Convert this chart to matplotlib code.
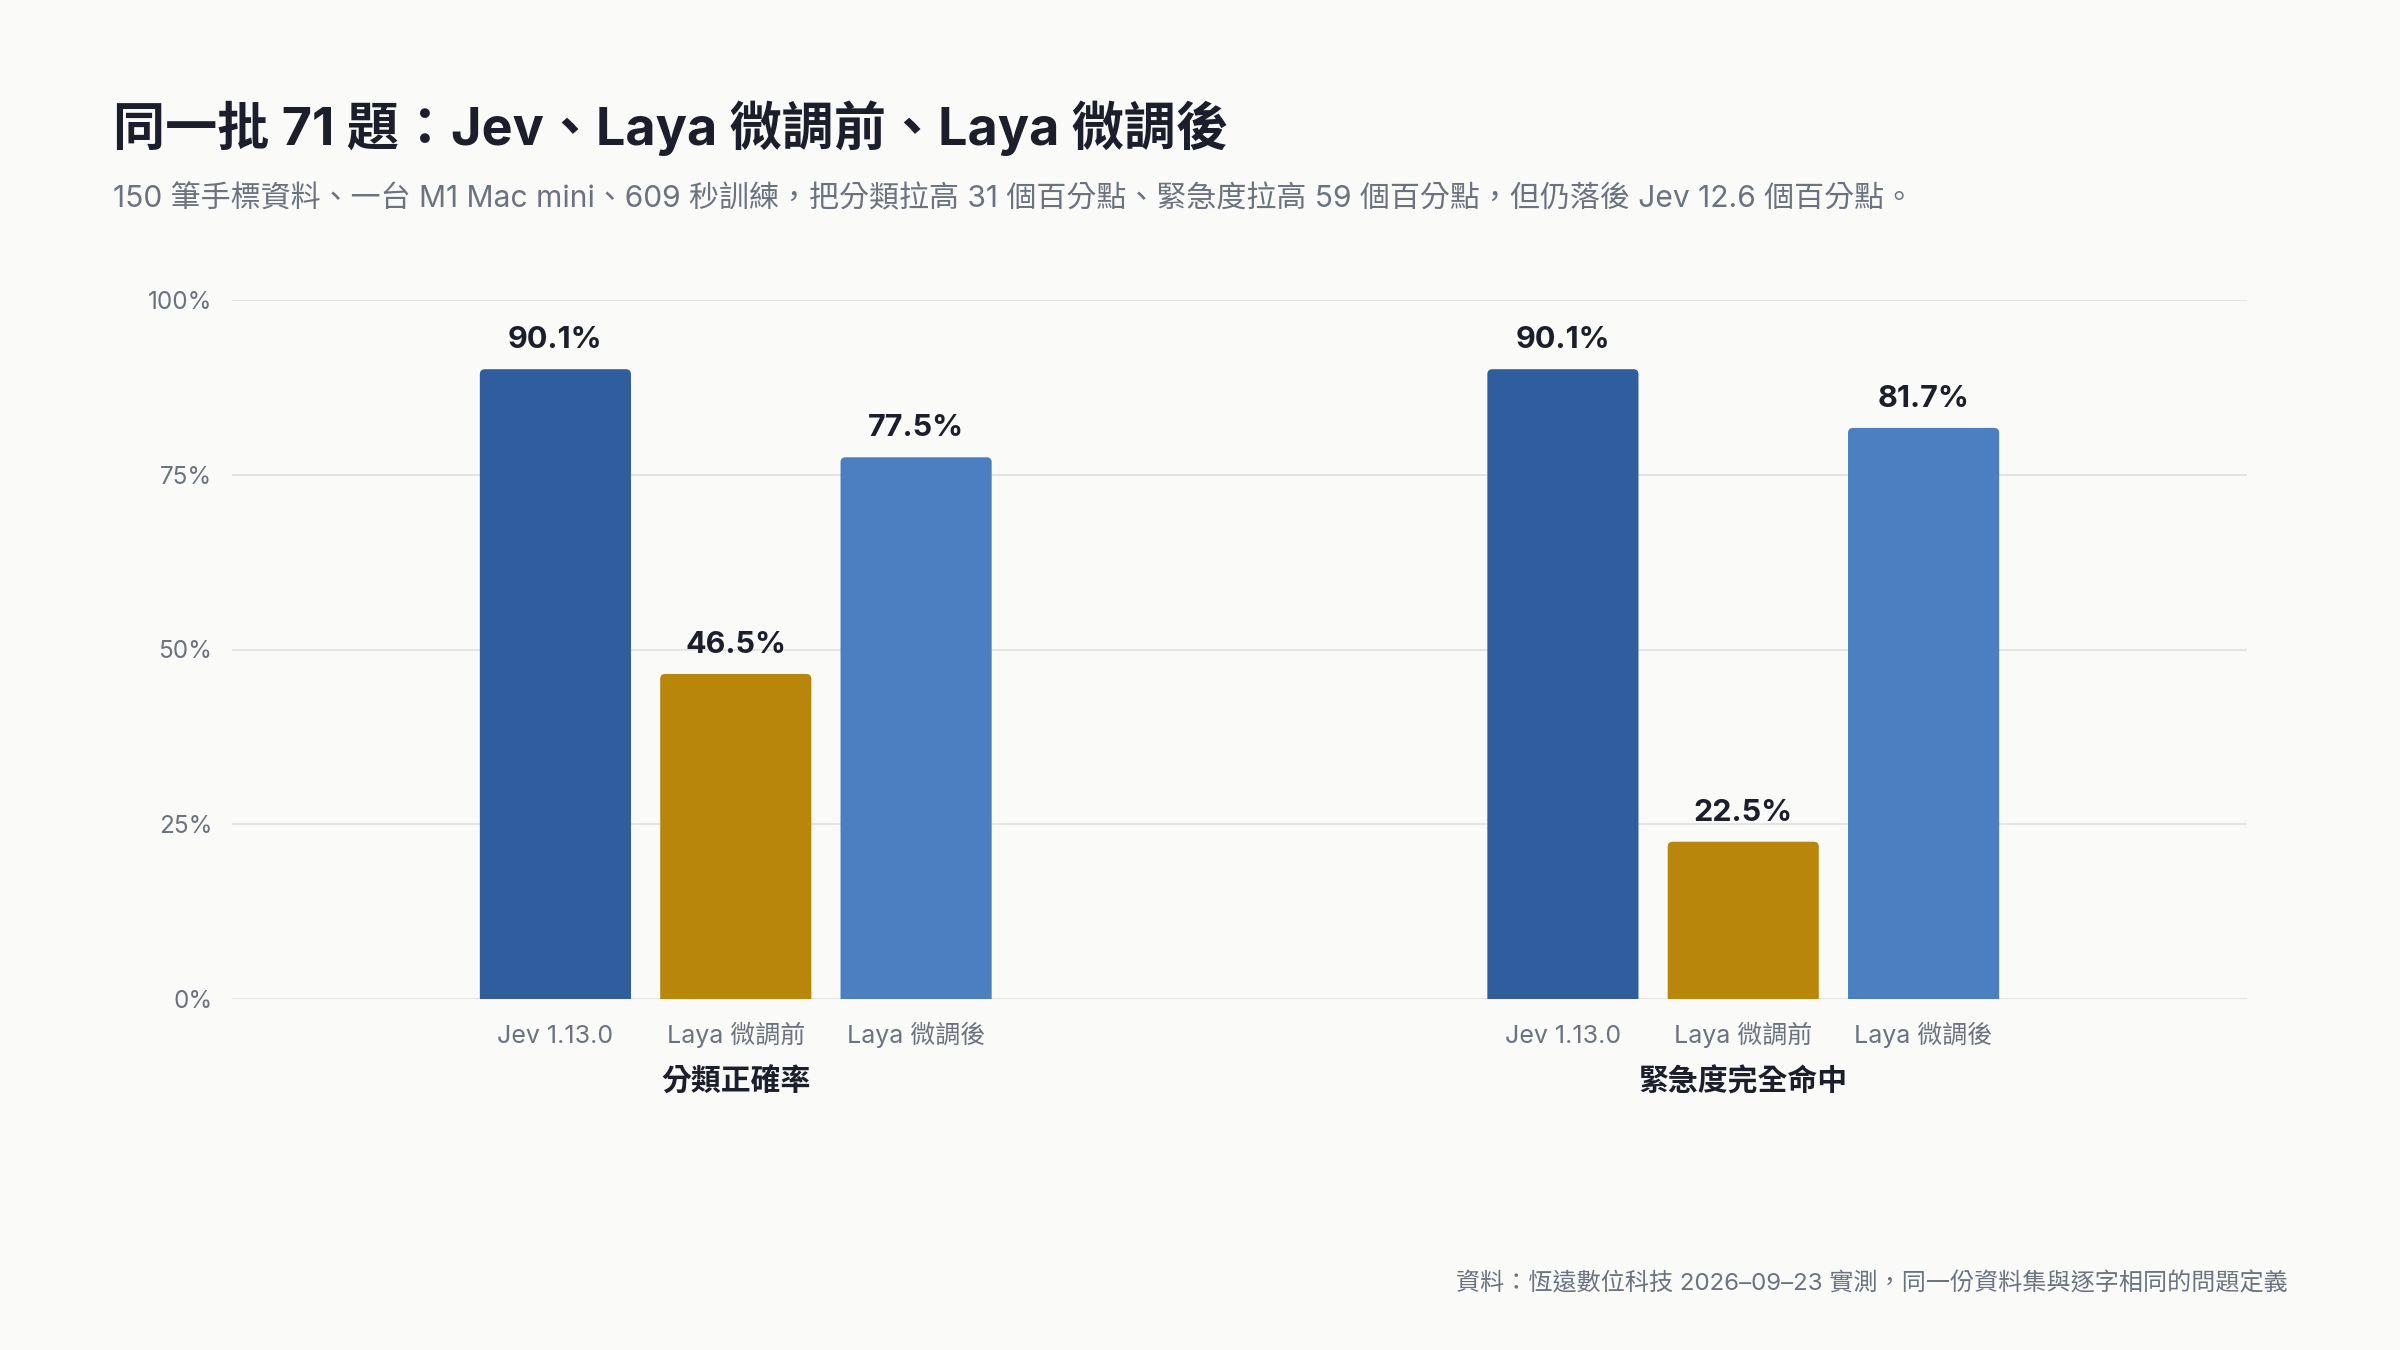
import matplotlib
matplotlib.use("Agg")
import matplotlib.pyplot as plt
from matplotlib.patches import FancyBboxPatch
import numpy as np

# data
metrics = ["分類正確率", "緊急度完全命中"]
models = ["Jev 1.13.0", "Laya 微調前", "Laya 微調後"]
jev = [90.1, 90.1]
laya_before = [46.5, 22.5]
laya_after = [77.5, 81.7]
yticks = [0, 25, 50, 75, 100]

colors = ["#2f5d9e", "#b8860b", "#4a80c1"]
bg = "#fafaf8"
dark = "#1c1f2b"
gray = "#6b7280"

plt.rcParams["font.family"] = ["Inter", "Noto Sans CJK TC", "DejaVu Sans"]

fig = plt.figure(figsize=(24, 13.5), dpi=100, facecolor=bg)
ax = fig.add_axes([232 / 2400, 1 - 999 / 1350, (2247 - 232) / 2400, 699 / 1350])
ax.set_facecolor(bg)

x = np.arange(len(metrics))
width = 0.15
step = 0.179
series = [jev, laya_before, laya_after]

# px -> data conversions for rounded tops
x_per_px = 2.0 / (2247 - 232)
y_per_px = 100.0 / 699
radius = 5 * x_per_px

for i, vals in enumerate(series):
    pos = x + (i - 1) * step
    bars = ax.bar(pos, vals, width=width, color=colors[i], zorder=3)
    for rect, v in zip(bars, vals):
        rect.set_visible(False)
        patch = FancyBboxPatch((rect.get_x(), -3), rect.get_width(), rect.get_height() + 3,
                               boxstyle="round,pad=0,rounding_size=%f" % radius,
                               mutation_aspect=y_per_px / x_per_px,
                               facecolor=colors[i], edgecolor="none", zorder=3)
        ax.add_patch(patch)
        ax.annotate(f"{v:.1f}%", (rect.get_x() + rect.get_width() / 2, v),
                    xytext=(0, 21), textcoords="offset points",
                    ha="center", va="center", fontsize=22, fontweight="bold", color=dark)

ax.set_xlim(-0.5, 1.5)
ax.set_ylim(0, 100)
ax.set_yticks(yticks)
ax.set_yticklabels([f"{t}%" for t in yticks], fontsize=17.5, color=gray)

tick_pos = [p + (i - 1) * step for p in x for i in range(len(models))]
ax.set_xticks(tick_pos)
ax.set_xticklabels(models * len(metrics), fontsize=18, color=gray)
for lab in ax.get_xticklabels():
    lab.set_verticalalignment("baseline")
ax.tick_params(axis="both", length=0)
ax.tick_params(axis="x", pad=32)
ax.tick_params(axis="y", pad=14)

ax.grid(axis="y", color="#e4e4e4", linewidth=1.5, zorder=0)
for s in ax.spines.values():
    s.set_visible(False)

for p, m in zip(x, metrics):
    ax.annotate(m, (p, 0), xycoords=("data", "axes fraction"),
                xytext=(0, -60), textcoords="offset points",
                ha="center", va="center", fontsize=21.5, fontweight="bold", color=dark)

fig.text(113 / 2400, 1 - 128 / 1350, "同一批 71 題：Jev、Laya 微調前、Laya 微調後",
         fontsize=37.5, fontweight="bold", color=dark, va="center", ha="left")
fig.text(113 / 2400, 1 - 199 / 1350,
         "150 筆手標資料、一台 M1 Mac mini、609 秒訓練，把分類拉高 31 個百分點、緊急度拉高 59 個百分點，但仍落後 Jev 12.6 個百分點。",
         fontsize=21.6, color=gray, va="center", ha="left")
fig.text(2288 / 2400, 1 - 1284 / 1350,
         "資料：恆遠數位科技 2026–09–23 實測，同一份資料集與逐字相同的問題定義",
         fontsize=17.35, color=gray, va="center", ha="right")

fig.savefig("out.png", dpi=100, facecolor=bg)
